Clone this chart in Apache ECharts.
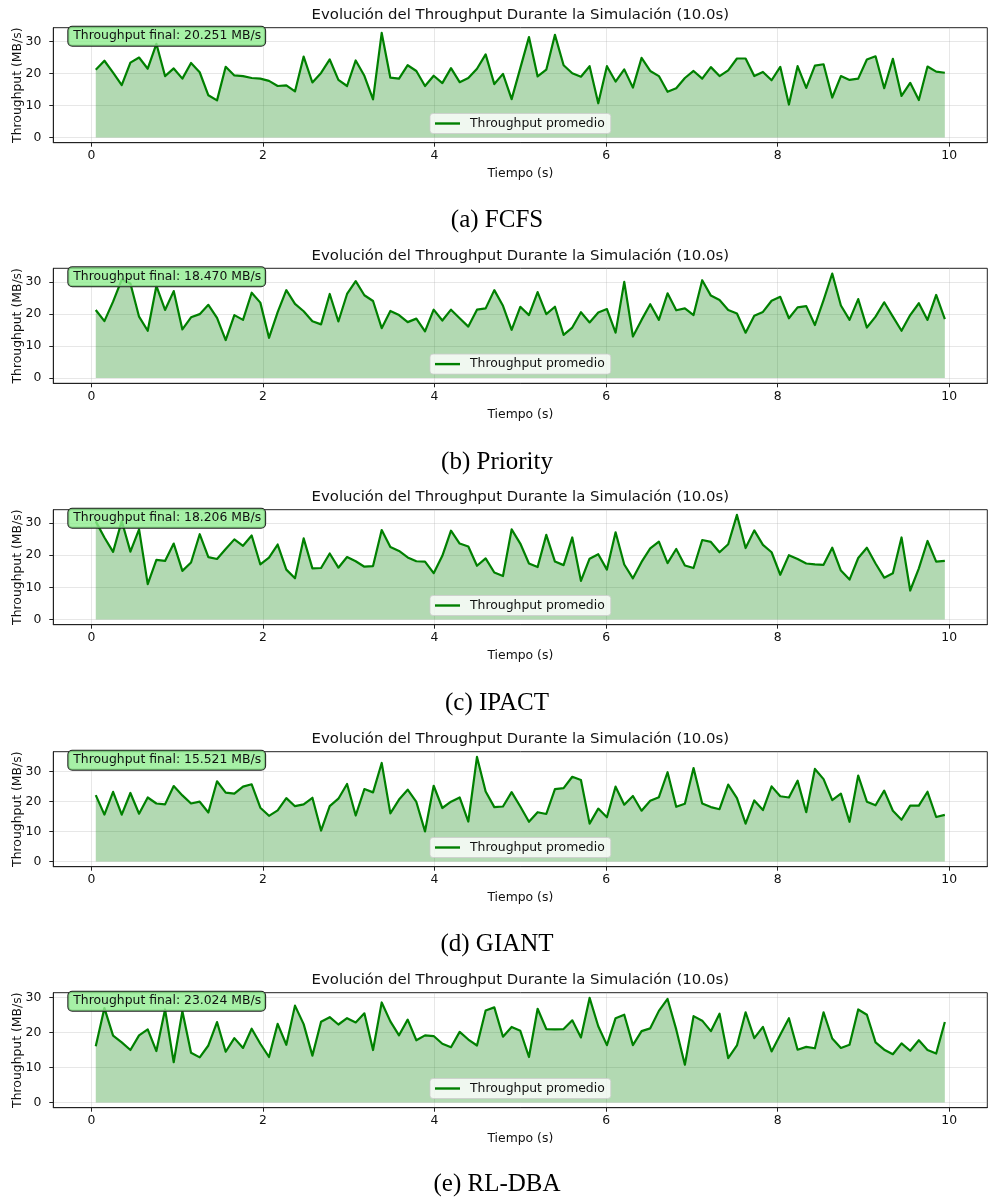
<!DOCTYPE html>
<html><head><meta charset="utf-8">
<script src="https://cdn.jsdelivr.net/npm/echarts@6/dist/echarts.min.js"></script>
<style>html,body{margin:0;padding:0;background:#fff}#c{width:991px;height:1200px}</style>
</head><body><div id="c"></div>
<script>
const times = [0.050,0.151,0.252,0.353,0.454,0.555,0.656,0.757,0.858,0.959,
1.060,1.161,1.262,1.363,1.464,1.565,1.666,1.767,1.868,1.969,
2.070,2.171,2.272,2.373,2.474,2.576,2.677,2.778,2.879,2.980,
3.081,3.182,3.283,3.384,3.485,3.586,3.687,3.788,3.889,3.990,
4.091,4.192,4.293,4.394,4.495,4.596,4.697,4.798,4.899,5.000,
5.101,5.202,5.303,5.404,5.505,5.606,5.707,5.808,5.909,6.010,
6.111,6.212,6.313,6.414,6.515,6.616,6.717,6.818,6.919,7.020,
7.121,7.222,7.323,7.424,7.526,7.627,7.728,7.829,7.930,8.031,
8.132,8.233,8.334,8.435,8.536,8.637,8.738,8.839,8.940,9.041,
9.142,9.243,9.344,9.445,9.546,9.647,9.748,9.849,9.950];
const xTicks = [0, 2, 4, 6, 8, 10];
const yTicks = [0, 10, 20, 30];

const fcfs = [21.2,24.0,20.3,16.4,23.4,25.0,21.5,29.3,19.2,21.6,
18.4,23.3,20.4,13.2,11.6,22.1,19.4,19.2,18.6,18.4,
17.7,16.1,16.3,14.4,25.3,17.2,20.2,24.4,18.0,16.1,
24.1,19.3,11.9,32.7,18.7,18.4,22.6,20.8,16.1,19.3,
17.0,21.7,17.3,18.6,21.5,
26.0,16.7,19.9,12.0,21.7,31.4,19.1,21.2,32.1,22.6,
20.1,19.0,22.3,10.7,22.3,17.5,21.3,15.6,24.9,20.8,
19.2,14.3,15.4,18.6,20.8,18.4,22.0,19.2,21.0,24.7,
24.7,19.2,20.5,17.9,22.1,10.3,22.3,15.5,22.5,22.9,
12.5,19.2,18.0,18.4,24.4,25.4,15.4,24.6,13.0,17.1,
11.7,22.2,20.6,20.25];
const priority = [21.3,17.8,23.9,30.8,29.6,19.2,14.8,28.8,21.3,27.2,
15.2,19.0,20.0,22.9,18.8,11.9,19.7,18.2,26.7,23.6,
12.6,20.6,27.5,23.2,20.9,17.8,16.8,26.3,17.7,26.3,
30.3,25.9,24.1,15.6,21.0,19.7,17.5,18.6,14.6,21.4,
18.0,21.4,18.7,16.1,21.4,
21.8,27.5,22.6,15.1,22.3,19.7,26.9,20.0,22.3,13.5,
15.8,20.6,17.4,20.5,21.6,14.2,30.1,13.0,18.2,23.1,
18.2,26.5,21.2,21.8,19.7,30.6,25.8,24.4,21.3,20.2,
14.2,19.5,20.7,24.2,25.4,18.7,22.1,22.5,16.6,24.4,
32.7,22.7,18.2,24.7,15.8,19.2,23.7,19.2,14.8,19.7,
23.4,18.2,26.0,18.47];
const ipact = [30.5,25.5,21.0,30.6,21.1,28.0,11.0,18.5,18.2,23.6,
15.1,17.7,26.5,19.4,18.8,21.9,24.9,22.9,26.1,17.1,
19.2,23.3,15.5,12.8,25.2,15.9,16.0,20.5,16.1,19.4,
18.1,16.4,16.6,27.8,22.5,21.3,19.3,18.1,18.0,14.4,
19.8,27.6,23.6,22.7,16.7,
19.0,14.6,13.5,28.0,23.6,17.4,16.3,26.3,18.0,16.9,
25.5,12.0,18.9,20.3,15.5,27.1,17.1,12.8,17.9,22.1,
24.2,17.5,21.9,16.8,16.0,24.7,24.1,20.9,23.4,32.5,
22.2,27.7,23.2,20.9,13.9,20.0,18.8,17.4,17.1,17.0,
22.3,15.2,12.4,19.1,22.3,17.4,13.0,14.4,25.5,9.0,
15.9,24.4,18.0,18.21];
const giant = [22.1,15.6,23.2,15.6,22.8,15.9,21.3,19.3,19.0,25.1,
22.0,19.3,19.9,16.3,26.7,22.9,22.6,24.9,25.7,17.9,
15.2,17.0,21.1,18.4,19.0,21.2,10.3,18.4,20.9,25.8,
15.3,24.1,23.0,32.8,16.0,20.6,23.9,19.8,10.0,25.2,
17.8,19.9,21.3,13.3,34.8,
23.3,18.1,18.3,23.1,18.3,13.2,16.4,15.8,24.1,24.4,
28.2,27.1,12.6,17.6,14.7,24.9,18.9,21.8,16.9,20.2,
21.4,29.7,18.2,19.2,31.1,19.3,18.1,17.4,25.6,21.1,
12.6,20.3,17.1,25.0,21.7,21.3,26.9,16.4,30.8,27.4,
20.4,22.6,13.2,28.6,19.9,18.7,23.6,16.9,13.9,18.6,
18.6,23.2,14.8,15.52];
const rldba = [16.1,27.0,19.1,17.2,15.0,19.2,20.9,14.7,26.6,11.5,
26.1,14.2,12.9,16.3,23.0,14.5,18.4,15.6,21.1,16.8,
13.0,22.5,16.5,27.7,22.4,13.4,23.1,24.4,22.3,24.1,
22.9,25.5,15.0,28.6,23.2,19.2,23.7,17.8,19.2,19.0,
16.8,15.8,20.2,18.0,16.3,
26.3,27.2,18.8,21.6,20.5,13.0,26.8,21.0,20.9,21.0,
23.5,18.6,29.9,21.8,16.4,24.1,25.1,16.4,20.4,21.2,
26.2,29.6,20.9,10.8,24.7,23.4,20.4,25.4,12.7,16.3,
25.8,18.4,21.6,14.6,19.4,24.1,15.1,15.9,15.5,25.8,
18.3,15.6,16.5,26.6,25.1,17.2,15.1,13.8,16.9,14.8,
17.8,15.0,14.0,23.02];

const finalLabels = ['Throughput final: 20.251 MB/s','Throughput final: 18.470 MB/s','Throughput final: 18.206 MB/s','Throughput final: 15.521 MB/s','Throughput final: 23.024 MB/s'];
const captions = ['(a) FCFS','(b) Priority','(c) IPACT','(d) GIANT','(e) RL-DBA'];
const chartTitle = 'Evolución del Throughput Durante la Simulación (10.0s)';
const legendName = 'Throughput promedio';
const xName = 'Tiempo (s)';
const yName = 'Throughput (MB/s)';

const panels = [fcfs, priority, ipact, giant, rldba];
const tops = [27.7, 268.3, 509.7, 751.7, 992.7];
const captionY = [220, 462, 703, 944, 1184];
const plotLeft = 53.3, plotRight = 3.7, plotH = 115;
const font = '"DejaVu Sans"';
const txt = '#111';

const grids = [], xAxes = [], yAxes = [], series = [], legends = [], graphics = [];
const tMin = Math.min(...times), tMax = Math.max(...times), tSpan = tMax - tMin;
panels.forEach((vals, i) => {
  const top = tops[i];
  const vMax = Math.max(...vals);
  grids.push({left: plotLeft, right: plotRight, top: top, height: plotH, show: true,
    containLabel: false, outerBoundsMode: 'none',
    borderColor: '#222', borderWidth: 1, backgroundColor: 'transparent'});
  xAxes.push({gridIndex: i, type: 'value', min: tMin - 0.05 * tSpan, max: tMax + 0.05 * tSpan,
    axisLine: {show: true, onZero: false, lineStyle: {color: '#222', width: 1}},
    axisTick: {show: true, customValues: xTicks, length: 4, lineStyle: {color: '#222', width: 1}},
    axisLabel: {customValues: xTicks, color: txt, fontSize: 12.4, fontFamily: font, margin: 7},
    splitLine: {show: true, lineStyle: {color: 'rgba(176,176,176,0.3)', width: 1}},
    name: xName, nameLocation: 'middle', nameGap: 25, nameMoveOverlap: false,
    nameTextStyle: {color: txt, fontSize: 12.4, fontFamily: font}});
  yAxes.push({gridIndex: i, type: 'value', min: -0.05 * vMax, max: 1.05 * vMax,
    axisLine: {show: true, onZero: false, lineStyle: {color: '#222', width: 1}},
    axisTick: {show: true, customValues: yTicks, length: 4, lineStyle: {color: '#222', width: 1}},
    axisLabel: {customValues: yTicks, color: txt, fontSize: 12.4, fontFamily: font, margin: 12},
    splitLine: {show: true, lineStyle: {color: 'rgba(176,176,176,0.3)', width: 1}},
    name: yName, nameLocation: 'middle', nameGap: 30, nameRotate: 90, nameMoveOverlap: false,
    nameTextStyle: {color: txt, fontSize: 12.4, fontFamily: font}});
  series.push({type: 'line', name: legendName, xAxisIndex: i, yAxisIndex: i,
    data: times.map((t, k) => [t, vals[k]]),
    showSymbol: false, symbol: 'none', z: 2,
    lineStyle: {color: '#008000', width: 2.2, join: 'round'},
    itemStyle: {color: '#008000'},
    areaStyle: {color: 'rgba(0,128,0,0.3)', opacity: 1}});
  legends.push({left: 430, top: top + 85.8, orient: 'horizontal', data: [legendName],
    icon: 'rect', itemWidth: 25, itemHeight: 2.4, itemStyle: {color: '#008000'},
    textStyle: {color: txt, fontSize: 12.4, fontFamily: font, padding: [0, 0, 0, 5]},
    backgroundColor: 'rgba(255,255,255,0.8)', borderColor: 'rgba(204,204,204,0.8)', borderWidth: 1,
    borderRadius: 3, padding: [4, 6, 4, 5], selectedMode: false});
  graphics.push({type: 'text', x: plotLeft + (991 - plotRight - plotLeft) / 2, y: top - 12.3, z: 100,
    style: {text: chartTitle, font: '14.9px ' + font, fill: txt, align: 'center', verticalAlign: 'middle',
      textAlign: 'center', textVerticalAlign: 'middle'}});
  graphics.push({type: 'text', x: 497, y: captionY[i], z: 100,
    style: {text: captions[i], font: '25px "Liberation Serif"', fill: '#000', align: 'center', verticalAlign: 'middle',
      textAlign: 'center', textVerticalAlign: 'middle'}});
  graphics.push({type: 'text', x: 68.3, y: top - 1, z: 100,
    style: {text: finalLabels[i], font: '12.4px ' + font, fill: txt, lineHeight: 15,
      backgroundColor: 'rgba(144,238,144,0.8)', borderColor: '#222', borderWidth: 1, borderRadius: 4,
      padding: [2, 4, 2, 5], align: 'left', verticalAlign: 'top', textAlign: 'left', textVerticalAlign: 'top'}});
});

const chart = echarts.init(document.getElementById('c'), null, {renderer: 'canvas'});
chart.setOption({
  animation: false,
  backgroundColor: '#fff',
  textStyle: {fontFamily: font},
  grid: grids, xAxis: xAxes, yAxis: yAxes, series: series, legend: legends,
  graphic: {elements: graphics}
});
</script></body></html>
